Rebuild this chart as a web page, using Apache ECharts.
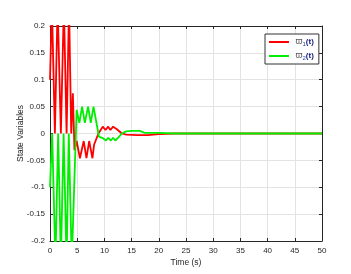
<!DOCTYPE html>
<html>
<head>
<meta charset="utf-8">
<script src="https://cdn.jsdelivr.net/npm/echarts@6/dist/echarts.min.js"></script>
<style>html,body{margin:0;padding:0;background:#fff;}#c{width:351px;height:274px;}</style>
</head>
<body>
<div id="c"></div>
<script>
const x1T = [0, 0.35, 0.9, 1.4, 2.0, 2.55, 3.05, 3.5, 3.9, 4.2, 4.5, 4.9, 5.5, 6.2, 6.7, 7.2, 7.8, 8.1, 8.9, 9.7, 10.2, 10.7, 11.1, 11.6, 12.3, 13.2, 14, 16, 18, 20, 23, 50];
const x1V = [0.1, 0.24, 0, 0.24, 0, 0.24, 0, 0.24, 0, 0.075, -0.031, -0.014, -0.046, -0.014, -0.046, -0.014, -0.046, -0.021, 0, 0.0127, 0.0065, 0.0127, 0.0065, 0.0127, 0.008, 0, -0.002, -0.003, -0.003, -0.001, 0, 0];
const x2T = [0, 0.4, 1.0, 1.5, 2.0, 2.5, 3.05, 3.45, 4.0, 4.9, 5.4, 5.9, 6.4, 7.0, 7.5, 8.0, 9.0, 9.6, 10.3, 10.7, 11.2, 11.6, 12.0, 12.5, 13.2, 14, 15, 16.5, 17.5, 20, 23, 50];
const x2V = [-0.1, 0, -0.24, 0, -0.24, 0, -0.24, 0, -0.24, 0.044, 0.02, 0.05, 0.02, 0.05, 0.02, 0.05, -0.006, -0.008, -0.013, -0.008, -0.013, -0.008, -0.013, -0.008, 0, 0.004, 0.005, 0.005, 0.001, 0.001, 0, 0];
const seriesNames = ['x1', 'x2'];
const legendSubs = ['1', '2'];

const chart = echarts.init(document.getElementById('c'));
const font = 'Liberation Sans, Arial, sans-serif';
const pair = (t, v) => t.map((x, i) => [x, v[i]]);
const axisCommon = () => ({
  axisLine: {show: true, onZero: false, lineStyle: {color: '#262626', width: 1}},
  axisTick: {show: true, inside: true, length: 3, lineStyle: {color: '#262626'}},
});
chart.setOption({
  animation: false,
  backgroundColor: '#fff',
  grid: {left: 50, right: 29, top: 26, bottom: 33},
  xAxis: [
    Object.assign({
      type: 'value', min: 0, max: 50, interval: 5, position: 'bottom',
      axisLabel: {color: '#262626', fontSize: 8, fontFamily: font, margin: 6},
      splitLine: {show: true, lineStyle: {color: '#e3e3e3', width: 1}},
      name: 'Time (s)', nameLocation: 'middle', nameGap: 17, nameMoveOverlap: false,
      nameTextStyle: {color: '#262626', fontSize: 8.5, fontFamily: font}
    }, axisCommon()),
    Object.assign({
      type: 'value', min: 0, max: 50, interval: 5, position: 'top',
      axisLabel: {show: false}, splitLine: {show: false}
    }, axisCommon())
  ],
  yAxis: [
    Object.assign({
      type: 'value', min: -0.2, max: 0.2, interval: 0.05, position: 'left',
      axisLabel: {color: '#262626', fontSize: 8, fontFamily: font, margin: 5,
        formatter: v => String(+v.toFixed(2))},
      splitLine: {show: true, lineStyle: {color: '#e3e3e3', width: 1}},
      name: 'State Variables', nameLocation: 'middle', nameGap: 25, nameRotate: 90, nameMoveOverlap: false,
      nameTextStyle: {color: '#262626', fontSize: 8.5, fontFamily: font}
    }, axisCommon()),
    Object.assign({
      type: 'value', min: -0.2, max: 0.2, interval: 0.05, position: 'right',
      axisLabel: {show: false}, splitLine: {show: false}
    }, axisCommon())
  ],
  legend: {
    orient: 'vertical', left: 265, top: 34,
    backgroundColor: '#fff', borderColor: '#333', borderWidth: 1,
    padding: [3, 5, 3, 4], itemGap: 4,
    itemWidth: 23, itemHeight: 2,
    icon: 'path://M0,0H10V1H0Z',
    data: seriesNames,
    formatter: name => '{a|ϖ}{s|' + legendSubs[seriesNames.indexOf(name)] + '}{b|(t)}',
    textStyle: {
      fontFamily: font, fontSize: 8, lineHeight: 10,
      rich: {
        a: {color: '#555', fontSize: 9, fontFamily: font, lineHeight: 10},
        s: {color: '#1f3fbf', fontSize: 6, fontFamily: font, padding: [4, 0, 0, 0], lineHeight: 10},
        b: {color: '#1a237e', fontSize: 8, fontFamily: font, fontWeight: 'bold', lineHeight: 10}
      }
    }
  },
  series: [
    {name: 'x1', type: 'line', data: pair(x1T, x1V), showSymbol: false, symbol: 'none',
     lineStyle: {color: '#ff0000', width: 1.8}, itemStyle: {color: '#ff0000'}, clip: true, z: 3},
    {name: 'x2', type: 'line', data: pair(x2T, x2V), showSymbol: false, symbol: 'none',
     lineStyle: {color: '#00ee00', width: 1.8}, itemStyle: {color: '#00ee00'}, clip: true, z: 4}
  ]
});
</script>
</body>
</html>
